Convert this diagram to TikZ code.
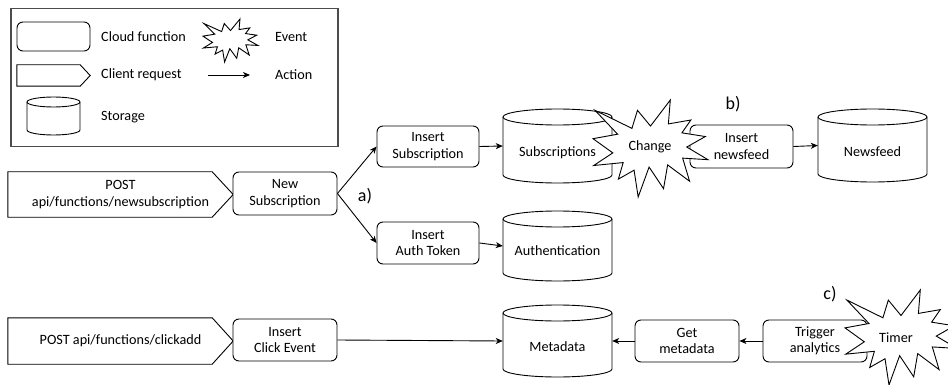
\documentclass[tikz,border=0pt]{standalone}
\usepackage{fontspec}
\setmainfont{Carlito}
\usetikzlibrary{arrows.meta}
% explosion (starburst) outline: x1, y1 (top, pixels downward), width, height
\newcommand\boom[4]{%
\begin{scope}[shift={(#1,-#2)},xscale=#3,yscale=-#4]
\draw[line width=0.9pt,fill=white,line join=miter]
(0.5,0.2685) -- (0.6723,0) -- (0.6553,0.2465) -- (0.8509,0.2063) -- (0.7732,0.3387)
-- (0.9767,0.3767) -- (0.8151,0.4850) -- (1,0.6153) -- (0.7795,0.5992) -- (0.8400,0.8377)
-- (0.6491,0.6693) -- (0.6133,0.9137) -- (0.4876,0.6914) -- (0.3928,1) -- (0.3572,0.7235)
-- (0.2205,0.8156) -- (0.2624,0.6452) -- (0.0063,0.6753) -- (0.1723,0.5451) -- (0,0.3988)
-- (0.2142,0.3526) -- (0.0171,0.1063) -- (0.3385,0.2926) -- (0.3867,0.1063) -- cycle;
\end{scope}}
% storage cylinder outline: x1, y1, x2, y2 (pixels, y downward), ry
\newcommand\storagecyl[5]{%
\draw[line width=0.9pt,fill=white] (#1,{-(#2)-(#5)}) -- (#1,{-(#4)+(#5)})
 arc[start angle=180,end angle=360,x radius={((#3)-(#1))*0.5pt},y radius={(#5)*1pt}]
 -- (#3,{-(#2)-(#5)})
 arc[start angle=0,end angle=180,x radius={((#3)-(#1))*0.5pt},y radius={(#5)*1pt}] -- cycle;
\draw[line width=0.9pt] (#1,{-(#2)-(#5)})
 arc[start angle=180,end angle=360,x radius={((#3)-(#1))*0.5pt},y radius={(#5)*1pt}];}
\begin{document}
\begin{tikzpicture}[x=1pt,y=1pt,font=\fontsize{14.2}{16.5}\selectfont,
 fn/.style={draw,line width=0.9pt,rounded corners=6pt,fill=white,align=center,inner sep=0pt},
 req/.style={align=center,inner sep=0pt},
 store/.style={inner sep=0pt},
 act/.style={line width=0.9pt,-{Stealth[length=7pt,width=6pt,inset=2pt]}},
 tag/.style={font=\fontsize{18}{20}\selectfont,inner sep=0pt},
 legtext/.style={anchor=west,inner sep=0pt}]
\useasboundingbox (0,0) rectangle (948,-385);
% ---------- legend ----------
\node[draw=black!70,line width=1.5pt,minimum width=327,minimum height=138,inner sep=0pt,anchor=north west] (legend) at (10,-8) {};
\node[fn,minimum width=73,minimum height=29] (lgfn) at (53.5,-36.5) {};
\node[req,minimum width=73,minimum height=21] (lgreq) at (53.5,-75.5) {};
\draw[line width=0.9pt] (lgreq.north west) -- ([xshift=-10pt]lgreq.north east) -- (lgreq.east) -- ([xshift=-10pt]lgreq.south east) -- (lgreq.south west) -- cycle;
\storagecyl{27}{97}{80}{135}{5}
\node[store,minimum width=53,minimum height=38] (lgst) at (53.5,-116) {};
\boom{203}{19}{55}{43}
\coordinate (la) at (208,-75);
\coordinate (lb) at (250,-75);
\draw[act] (la) -- (lb);
\node[legtext] (t1) at (101,-37) {Cloud function};
\node[legtext] (t2) at (101,-75) {Client request};
\node[legtext] (t3) at (101,-117) {Storage};
\node[legtext] (t4) at (275,-37) {Event};
\node[legtext] (t5) at (275,-75) {Action};
% ---------- row 1 ----------
\node[req,minimum width=225,minimum height=45] (post1) at (120.5,-194.5) {POST\\api/functions/newsubscription};
\draw[line width=0.9pt] (post1.north west) -- ([xshift=-21pt]post1.north east) -- (post1.east) -- ([xshift=-21pt]post1.south east) -- (post1.south west) -- cycle;
\node[fn,minimum width=104,minimum height=43] (newsub) at (285,-193.5) {New\\Subscription};
\node[fn,minimum width=102,minimum height=41] (inssub) at (428,-146.5) {Insert\\Subscription};
\node[fn,minimum width=102,minimum height=42] (insauth) at (428,-243) {Insert\\Auth Token};
\storagecyl{503}{109}{612}{183}{8}
\node[store,minimum width=109,minimum height=74,label={[yshift=-7pt]center:Subscriptions}] (subs) at (557.5,-146) {};
\storagecyl{503}{211}{612}{281}{8}
\node[store,minimum width=109,minimum height=70,label={[yshift=-5pt]center:Authentication}] (auth) at (557.5,-246) {};
\node[fn,minimum width=103,minimum height=43] (insnews) at (741.5,-146.5) {Insert\\newsfeed};
\storagecyl{818}{109}{927}{182}{8}
\node[store,minimum width=109,minimum height=73,label={[yshift=-6pt]center:Newsfeed}] (newsfeed) at (872.5,-145.5) {};
% ---------- row 2 ----------
\node[req,minimum width=225,minimum height=46] (post2) at (120.5,-341) {POST api/functions/clickadd};
\draw[line width=0.9pt] (post2.north west) -- ([xshift=-21pt]post2.north east) -- (post2.east) -- ([xshift=-21pt]post2.south east) -- (post2.south west) -- cycle;
\node[fn,minimum width=104,minimum height=42] (insclick) at (285,-340) {Insert\\Click Event};
\storagecyl{503}{305}{612}{377}{8}
\node[store,minimum width=109,minimum height=72,label={[yshift=-6pt]center:Metadata}] (metadata) at (557.5,-341) {};
\node[fn,minimum width=104,minimum height=42] (getmeta) at (687,-341) {Get\\metadata};
\node[fn,minimum width=104,minimum height=42] (trigger) at (815,-341) {Trigger\\analytics};
% ---------- events ----------
\boom{593}{100}{115}{97}
\node (change) at (650,-147) {Change};
\boom{845}{290}{112}{95}
\node (timer) at (896,-338) {Timer};
% ---------- tags ----------
\node[tag] (ta) at (365,-196) {a)};
\node[tag] (tb) at (733,-104) {b)};
\node[tag] (tc) at (830,-294) {c)};
% ---------- actions ----------
\draw[act] (newsub.east) -- (inssub.west);
\draw[act] (newsub.east) -- (insauth.west);
\draw[act] (inssub.east) -- (subs.west);
\draw[act] (insauth.east) -- (auth.west);
\draw[act] (insnews.east) -- (newsfeed.west);
\draw[act] (insclick.east) -- (metadata.west);
\draw[act] (trigger.west) -- (getmeta.east);
\draw[act] (getmeta.west) -- (metadata.east);
\end{tikzpicture}
\end{document}
